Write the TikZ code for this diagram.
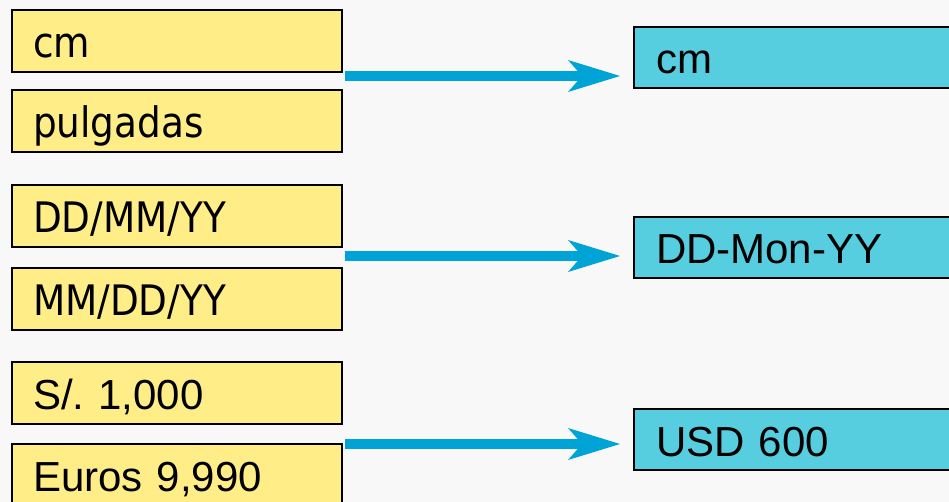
\documentclass[tikz,border=0pt]{standalone}
\usepackage{fontspec}
\setmainfont{Liberation Sans}
\newfontfamily\boxfont[FakeStretch=0.89]{DejaVu Sans}
\usetikzlibrary{arrows.meta,calc}

\definecolor{boxyellow}{RGB}{255,238,136}
\definecolor{boxcyan}{RGB}{86,206,223}
\definecolor{arrowblue}{RGB}{0,163,214}
\definecolor{bgpaper}{RGB}{248,248,248}

\frenchspacing

\begin{document}
\begin{tikzpicture}[x=1bp,y=-1bp,
  basebox/.style={draw=black, line width=2bp, inner ysep=0pt,
    align=left, text height=33bp, text depth=0pt, anchor=north west,
    font=\fontsize{42bp}{44bp}\selectfont},
  srcbox/.style={basebox, fill=boxyellow, minimum height=62bp,
    text width=288bp, inner xsep=21bp},
  srcboxalt/.style={srcbox, font=\fontsize{42bp}{44bp}\selectfont\boxfont},
  tgtbox/.style={basebox, fill=boxcyan, minimum height=61bp,
    text width=320bp, inner xsep=22bp},
  flow/.style={draw=arrowblue, line width=10bp,
    -{Stealth[length=52bp, width=32bp, inset=14bp, line width=0pt]}}
]
  \useasboundingbox (0,0) rectangle (949,502);
  \clip (0,0) rectangle (949,502);
  \fill[bgpaper] (0,0) rectangle (949,502);

  % source formats (left column)
  \node[srcboxalt] (y1) at (11,9)   {cm};
  \node[srcboxalt] (y2) at (11,89)  {pulgadas};
  \node[srcboxalt] (y3) at (11,184) {DD/MM/YY};
  \node[srcboxalt] (y4) at (11,267) {MM/DD/YY};
  \node[srcbox]    (y5) at (11,361) {S/.\ 1,000};
  \node[srcbox]    (y6) at (11,443) {Euros 9,990};

  % target formats (right column)
  \node[tgtbox] (c1) at (633,26)  {cm};
  \node[tgtbox] (c2) at (633,216) {DD-Mon-YY};
  \node[tgtbox] (c3) at (633,408) {USD 600};

  % connector start points, just right of the source groups
  \coordinate (a1) at ([xshift=2bp,yshift=-3bp]y1.south east);
  \coordinate (a2) at ([xshift=2bp,yshift=-8bp]y3.south east);
  \coordinate (a3) at ([xshift=2bp,yshift=-19bp]y5.south east);

  \draw[flow] (a1) -- ($(c1.west |- a1)+(-13bp,0)$);
  \draw[flow] (a2) -- ($(c2.west |- a2)+(-13bp,0)$);
  \draw[flow] (a3) -- ($(c3.west |- a3)+(-13bp,0)$);
\end{tikzpicture}
\end{document}
